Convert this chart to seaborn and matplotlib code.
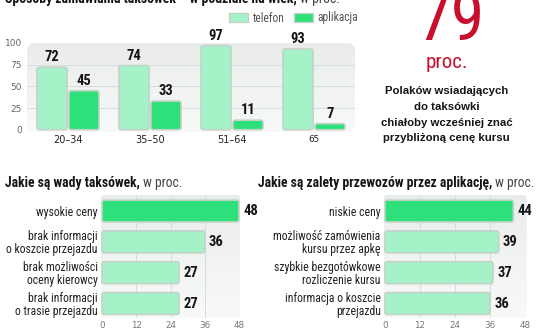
import numpy as np
import pandas as pd
import matplotlib
matplotlib.use("Agg")
import matplotlib.pyplot as plt
from matplotlib import font_manager as fm
from matplotlib.patches import FancyBboxPatch, Patch
from matplotlib.colors import LinearSegmentedColormap
import seaborn as sns

# ---- data -------------------------------------------------------------
age_groups = ["20–34", "35–50", "51–64", "65"]
series_names = ["telefon", "aplikacja"]
telefon = [72, 74, 97, 93]
aplikacja = [45, 33, 11, 7]
age_ticks = [0, 25, 50, 75, 100]

wady_labels = ["wysokie ceny", "brak informacji\no koszcie przejazdu",
               "brak możliwości\noceny kierowcy", "brak informacji\no trasie przejazdu"]
wady_values = [48, 36, 27, 27]

zalety_labels = ["niskie ceny", "możliwość zamówienia\nkursu przez apkę",
                 "szybkie bezgotówkowe\nrozliczenie kursu", "informacja o koszcie\nprzejazdu"]
zalety_values = [44, 39, 37, 36]
share_ticks = [0, 12, 24, 36, 48]

headline_value = "79"
headline_unit = "proc."
headline_lines = ["Polaków wsiadających", "do taksówki",
                  "chiałoby wcześniej znać", "przybliżoną cenę kursu"]

title_top = ("Sposoby zamawiania taksówek – w podziale na wiek,", "w proc.")
title_wady = ("Jakie są wady taksówek,", "w proc.")
title_zalety = ("Jakie są zalety przewozów przez aplikację,", "w proc.")

# ---- style ------------------------------------------------------------
sns.set_theme(style="white")
available = {f.name for f in fm.fontManager.ttflist}


def pick(*names):
    for n in names:
        if n in available:
            return n
    return "DejaVu Sans"


NARROW = pick("Liberation Sans Narrow", "Roboto Condensed", "DejaVu Sans")
SANS = pick("Liberation Sans", "DejaVu Sans")
NS = 1.0 if NARROW != "DejaVu Sans" else 0.8
plt.rcParams["font.family"] = [NARROW, "DejaVu Sans"]

LIGHT = "#a6f2c8"
DARK = "#2ee07a"
EDGE = "#c3d3c8"
RED = "#c8102e"
INK = "#151515"

W, H = 536, 332
fig = plt.figure(figsize=(W / 100, H / 100), dpi=100, facecolor="white")


def fx(px):
    return px / W


def fy(py):
    return 1 - py / H


def panel(ax):
    ax.set_facecolor("none")
    for s in ax.spines.values():
        s.set_visible(False)
    bg = FancyBboxPatch((0, 0), 1, 1, boxstyle="round,pad=0,rounding_size=0.025",
                        mutation_aspect=ax.bbox.width / ax.bbox.height,
                        transform=ax.transAxes, facecolor="#f1f2f2",
                        edgecolor="none", zorder=0.1)
    ax.add_patch(bg)
    cmap = LinearSegmentedColormap.from_list("panel", ["#f8f9f9", "#eaecec"])
    grad = np.linspace(0, 1, 64).reshape(-1, 1)
    im = ax.imshow(grad, extent=(0, 1, 1, 0), transform=ax.transAxes, cmap=cmap,
                   aspect="auto", zorder=0.2, interpolation="bilinear")
    im.set_clip_path(bg)
    return bg


def round_bars(ax, radius_px):
    inv = ax.transData.inverted()
    (x0, y0), (x1, y1) = inv.transform([(0, 0), (1, 1)])
    ux, uy = abs(x1 - x0), abs(y1 - y0)
    for p in list(ax.patches):
        if not isinstance(p, matplotlib.patches.Rectangle):
            continue
        fb = FancyBboxPatch((p.get_x(), p.get_y()), p.get_width(), p.get_height(),
                            boxstyle=f"round,pad=0,rounding_size={radius_px * ux}",
                            mutation_aspect=uy / ux, facecolor=p.get_facecolor(),
                            edgecolor=EDGE, linewidth=1.2, zorder=3)
        ax.add_patch(fb)
        p.set_visible(False)


def two_part(x_px, base_px, bold, regular, size):
    t = fig.text(fx(x_px), fy(base_px), bold, fontsize=size, fontweight="bold",
                 color=INK, va="baseline", ha="left", family=[NARROW, "DejaVu Sans"])
    fig.canvas.draw()
    bb = t.get_window_extent()
    fig.text(bb.x1 / W + 3 / W, fy(base_px), regular, fontsize=size, color="#444444",
             va="baseline", ha="left", family=[NARROW, "DejaVu Sans"])


# ---- top: ordering by age group -------------------------------------
ax1 = fig.add_axes([fx(27), fy(131.7), fx(328), (131.7 - 43) / H])
df_age = pd.DataFrame({
    "wiek": age_groups * 2,
    "seria": [series_names[0]] * len(age_groups) + [series_names[1]] * len(age_groups),
    "proc": telefon + aplikacja,
})
sns.barplot(data=df_age, x="wiek", y="proc", hue="seria", order=age_groups,
            hue_order=series_names, palette={"telefon": LIGHT, "aplikacja": DARK},
            saturation=1, width=0.78, gap=0.06, legend=False, ax=ax1)
ax1.set_xlim(-0.5, 3.5)
ax1.set_ylim(-2.3, 100)
panel(ax1)
for v in age_ticks[1:-1]:
    ax1.axhline(v, color="#d9dcdc", lw=0.7, zorder=0.5)
for c in ax1.containers:
    ax1.bar_label(c, fmt="%d", padding=2, fontsize=10.5 * NS, fontweight="bold",
                  color=INK, zorder=5)
round_bars(ax1, 2.2)
ax1.set_yticks(age_ticks)
ax1.set_yticklabels([str(t) for t in age_ticks], fontsize=6.5, color="#666666",
                    family=["DejaVu Sans"])
ax1.set_xticks(range(len(age_groups)))
ax1.set_xticklabels(age_groups, fontsize=7, color="#222222", family=["DejaVu Sans"])
ax1.get_xticklabels()[-1].set_fontsize(6.3)
ax1.tick_params(axis="both", length=0)
ax1.tick_params(axis="y", pad=3.5)
ax1.tick_params(axis="x", pad=2.5)
ax1.set_xlabel("")
ax1.set_ylabel("")

handles = [Patch(facecolor=LIGHT, edgecolor=EDGE, linewidth=1.0, label=series_names[0]),
           Patch(facecolor=DARK, edgecolor=EDGE, linewidth=1.0, label=series_names[1])]
leg = fig.legend(handles=handles, loc="upper left", bbox_to_anchor=(fx(229), fy(11.5)),
                 ncol=2, frameon=False, fontsize=8.3 * NS, handlelength=1.65,
                 handleheight=0.85, handletextpad=0.4, columnspacing=0.8,
                 borderpad=0, borderaxespad=0)
for t in leg.get_texts():
    t.set_color("#555555")

two_part(5, 3.5, title_top[0], title_top[1], 9.9 * NS)

# ---- headline figure -------------------------------------------------
fig.text(fx(451), fy(40), headline_value, fontsize=49 * NS, color=RED,
         ha="center", va="baseline", family=[NARROW, "DejaVu Sans"])
fig.text(fx(447), fy(68.5), headline_unit, fontsize=15 * NS, color=RED,
         ha="center", va="baseline", family=[NARROW, "DejaVu Sans"])
for line, base in zip(headline_lines, [94.3, 110, 125.7, 141.2]):
    fig.text(fx(446.5), fy(base), line, fontsize=8.2, fontweight="bold", color=INK,
             ha="center", va="baseline", family=[SANS, "DejaVu Sans"])


# ---- bottom: horizontal bar panels ----------------------------------
def hbar_panel(left_px, right_px, labels, values):
    ax = fig.add_axes([fx(left_px), fy(318), fx(right_px - left_px), (318 - 195) / H])
    colors = [DARK] + [LIGHT] * (len(labels) - 1)
    sns.barplot(x=values, y=labels, hue=labels, palette=colors, orient="h",
                saturation=1, width=0.71, legend=False, ax=ax)
    ax.set_xlim(-0.5, 48.5)
    ax.set_ylim(3.47, -0.52)
    panel(ax)
    for v in share_ticks[1:-1]:
        ax.axvline(v, color="#d9dcdc", lw=0.7, zorder=0.5)
    for c in ax.containers:
        ax.bar_label(c, fmt="%d", padding=3, fontsize=10.5 * NS, fontweight="bold",
                     color=INK, zorder=5)
    round_bars(ax, 2.2)
    ax.set_xticks(share_ticks)
    ax.set_xticklabels([str(t) for t in share_ticks], fontsize=6.3, color="#777777",
                       family=["DejaVu Sans"])
    ax.set_yticks(range(len(labels)))
    ax.set_yticklabels(labels, fontsize=8.5 * NS, color="#222222",
                       family=[NARROW, "DejaVu Sans"])
    for t in ax.get_yticklabels():
        t.set_linespacing(1.0)
        t.set_multialignment("right")
    ax.tick_params(axis="both", length=0)
    ax.tick_params(axis="y", pad=2)
    ax.tick_params(axis="x", pad=2.5)
    ax.set_xlabel("")
    ax.set_ylabel("")
    return ax


hbar_panel(100.6, 240.4, wady_labels, wady_values)
hbar_panel(383.5, 526.5, zalety_labels, zalety_values)

two_part(5, 186.5, title_wady[0], title_wady[1], 9.8 * NS)
two_part(258, 186.5, title_zalety[0], title_zalety[1], 9.8 * NS)

fig.savefig("out.png", dpi=100, facecolor="white")
